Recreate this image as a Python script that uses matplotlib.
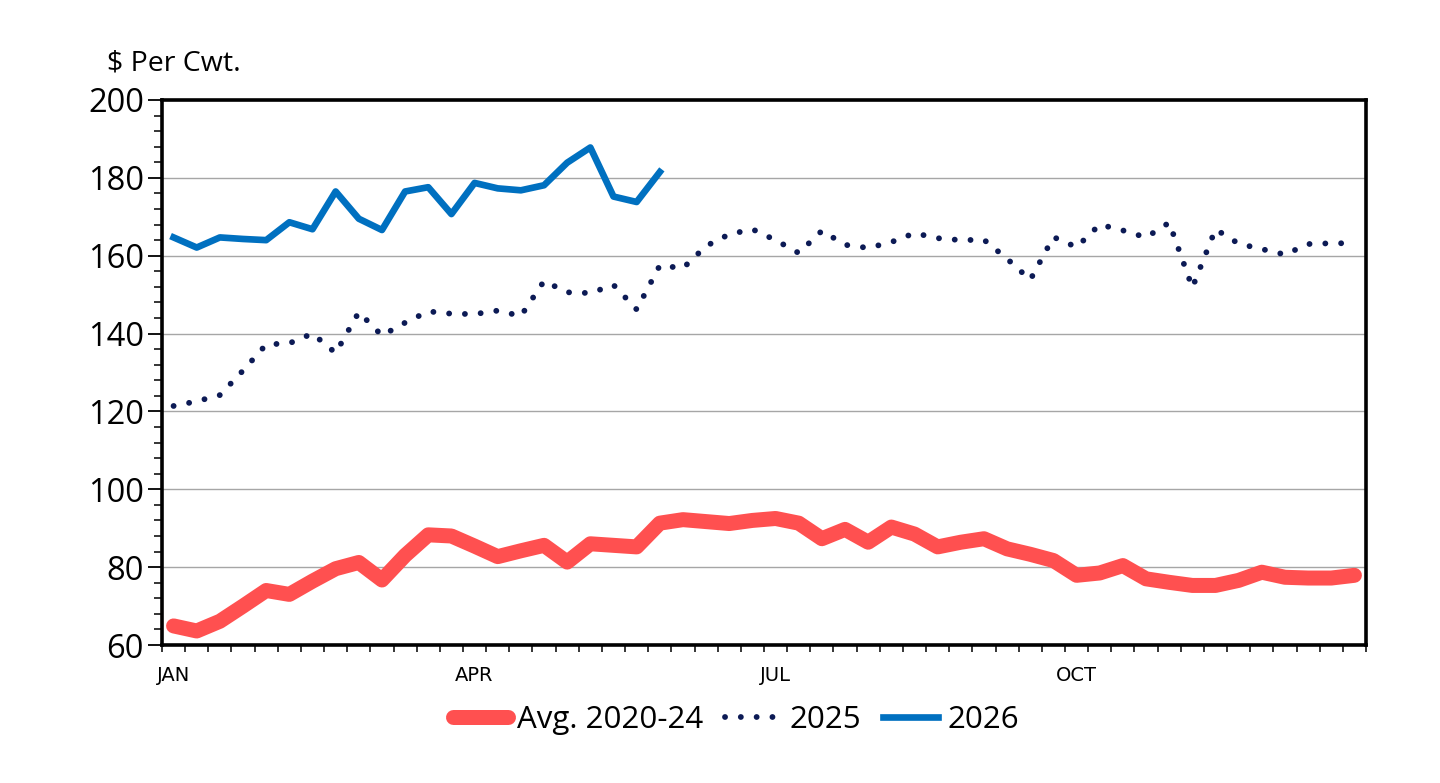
import matplotlib
matplotlib.use("Agg")
import matplotlib.pyplot as plt
from matplotlib.ticker import MultipleLocator, FixedLocator, NullFormatter
import numpy as np

# weekly prices, $ per cwt
weeks = list(range(52))

avg_2020_24 = [64.9, 63.6, 66.1, 70.0, 74.0, 73.0, 76.4, 79.6, 81.2, 76.7,
               83.0, 88.3, 88.0, 85.4, 82.7, 84.2, 85.6, 81.3, 86.0, 85.6,
               85.2, 91.3, 92.2, 91.7, 91.2, 92.0, 92.5, 91.3, 87.3, 89.7,
               86.4, 90.3, 88.5, 85.2, 86.4, 87.3, 84.7, 83.3, 81.7, 77.9,
               78.5, 80.4, 77.0, 76.1, 75.3, 75.3, 76.6, 78.7, 77.4, 77.2,
               77.2, 77.9]

y2025 = [121.4, 122.6, 124.2, 130.5, 137.2, 137.5, 140.0, 135.0, 145.5, 139.5,
         142.8, 145.7, 145.1, 145.0, 145.9, 144.5, 153.5, 150.6, 150.4, 152.5,
         146.2, 157.5, 156.8, 162.5, 165.5, 166.8, 164.0, 160.7, 166.4, 162.8,
         162.0, 163.5, 165.8, 164.5, 164.0, 164.1, 159.2, 153.8, 164.8, 162.2,
         168.0, 166.5, 164.7, 168.5, 151.8, 166.8, 163.1, 161.7, 160.3, 163.0,
         163.2, 163.2]

y2026 = [164.7, 162.1, 164.7, 164.3, 164.0, 168.6, 166.8, 176.5, 169.5, 166.6,
         176.5, 177.6, 170.7, 178.7, 177.3, 176.8, 178.1, 183.9, 187.8, 175.2,
         173.8, 181.5]

month_pos = [0, 13, 26, 39]
month_labels = ["JAN", "APR", "JUL", "OCT"]

FONT = ["Open Sans", "DejaVu Sans"]

W, H = 1440, 783
fig = plt.figure(figsize=(W / 100, H / 100), dpi=100)
ax = fig.add_axes([162 / W, 1 - 645 / H, (1366 - 162) / W, (645 - 100) / H])

ax.plot(weeks, avg_2020_24, color="#ff5050", lw=10.8,
        solid_capstyle="round", solid_joinstyle="round", label="Avg. 2020-24", zorder=3)
ax.plot(weeks, y2025, color="#0c1a55", lw=4.2, linestyle=(0, (0.01, 2.7)),
        dash_capstyle="round", label="2025", zorder=3)
ax.plot(weeks[:len(y2026)], y2026, color="#0070c0", lw=4.8,
        solid_joinstyle="round", label="2026", zorder=3)

ax.set_xlim(-0.5, 51.5)
ax.set_ylim(60, 200)

# y axis
ax.yaxis.set_major_locator(MultipleLocator(20))
ax.yaxis.set_minor_locator(MultipleLocator(4))
ax.tick_params(axis="y", which="major", direction="out", length=10, width=1.3,
               pad=3, labelsize=23.5)
ax.tick_params(axis="y", which="minor", direction="out", length=6, width=1.1)
for t in ax.get_yticklabels():
    t.set_fontfamily(FONT)

# x axis: weekly ticks, month labels
ax.xaxis.set_major_locator(FixedLocator(np.arange(-0.5, 52, 1)))
ax.xaxis.set_major_formatter(NullFormatter())
ax.xaxis.set_minor_locator(FixedLocator(month_pos))
ax.set_xticklabels(month_labels, minor=True)
ax.tick_params(axis="x", which="major", direction="out", length=5, width=1.1)
ax.tick_params(axis="x", which="minor", length=0, pad=15, labelsize=14)
for t in ax.get_xticklabels(minor=True):
    t.set_fontfamily(["Liberation Sans Narrow", "DejaVu Sans"])

ax.grid(axis="y", which="major", color="#a6a6a6", lw=1.0)
ax.set_axisbelow(True)
for s in ax.spines.values():
    s.set_linewidth(2.6)
    s.set_color("black")

fig.text(107 / W, 1 - 70 / H, "$ Per Cwt.", fontsize=20.5,
         family=FONT, va="baseline", ha="left")

leg = fig.legend(loc="center", bbox_to_anchor=(736 / W, 1 - 720 / H), ncol=3,
                 frameon=False, handlelength=1.75, handletextpad=0.3,
                 columnspacing=0.7, prop={"family": FONT, "size": 22.5})

fig.savefig("out.png", dpi=100, facecolor="white")
